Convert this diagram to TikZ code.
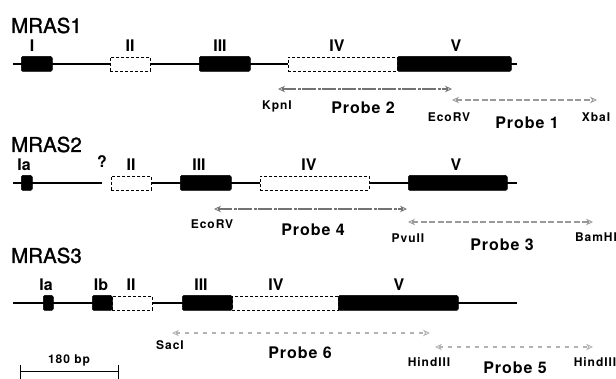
\documentclass[tikz,border=0pt]{standalone}
\usepackage{fontspec}
\setmainfont{TeX Gyre Heros}
\newfontfamily\titfont[FakeBold=1.2]{TeX Gyre Heros}
\newfontfamily\spcfont[LetterSpace=6]{TeX Gyre Heros}
\newfontfamily\enzfont[LetterSpace=8]{TeX Gyre Heros}
\usetikzlibrary{arrows.meta}
\begin{document}
\begin{tikzpicture}[x=1pt,y=-1pt,
  title/.style={font=\titfont\fontsize{20.5}{22}\selectfont, inner sep=0pt, anchor=base west},
  exlab/.style={font=\fontsize{16}{18}\selectfont\bfseries, inner sep=0pt, anchor=base},
  prlab/.style={font=\spcfont\fontsize{16}{18}\selectfont\bfseries, inner sep=0pt},
  enz/.style={font=\enzfont\fontsize{12}{14}\selectfont\bfseries, inner sep=0pt},
  gene/.style={line width=1.8pt},
  exonB/.style={fill=black, draw=black, line width=0.5pt, rounded corners=1.5pt, minimum height=15pt, inner sep=0pt, anchor=west},
  exonW/.style={fill=white, draw=black, line width=0.7pt, densely dashed, minimum height=14pt, inner sep=0pt, anchor=west},
  tipo/.tip={Stealth[open, length=7pt, width=6.5pt, line width=0.8pt]},
  probe/.style={line width=1.3pt, tipo-tipo},
  probeA/.style={probe, draw=black!55, dash pattern=on 14pt off 1.5pt on 3pt off 1.5pt},
  probeB/.style={probe, draw=black!40, dash pattern=on 6pt off 2.5pt},
  probeC/.style={probe, draw=black!30, dash pattern=on 4pt off 5pt},
  scalebar/.style={line width=1pt}]
\useasboundingbox (0,0) rectangle (616,379);

% ---------------- MRAS1 ----------------
\node[title] (t1) at (11,33) {MRAS1};
\coordinate (a0) at (13,64);
\coordinate (a9) at (517,64);
\draw[gene] (a0) -- (a9);
\node[exonB, minimum width=31pt] (a1) at (21,64) {};
\node[exonW, minimum width=40pt] (a2) at (110,64) {};
\node[exonB, minimum width=51pt] (a3) at (199,64) {};
\node[exonW, minimum width=109pt] (a4) at (288,64) {};
\node[exonB, minimum width=114pt] (a5) at (397,64) {};
\node[exlab] (la1) at (32,52) {I};
\node[exlab] (la2) at (130,52) {II};
\node[exlab] (la3) at (220,52) {III};
\node[exlab] (la4) at (337,52) {IV};
\node[exlab] (la5) at (456,52) {V};
\coordinate (p2l) at (278,89);
\coordinate (p2r) at (452,89);
\draw[probeA] (p2l) -- (p2r);
\coordinate (p1l) at (452,100);
\coordinate (p1r) at (597,100);
\draw[probeB] (p1l) -- (p1r);
\node[enz] (kpn) at (277,106) {KpnI};
\node[prlab] (pr2) at (363,108) {Probe 2};
\node[enz] (eco1) at (449,117) {EcoRV};
\node[prlab] (pr1) at (527,123) {Probe 1};
\node[enz] (xba) at (596,117) {XbaI};

% ---------------- MRAS2 ----------------
\node[title] (t2) at (11,152) {MRAS2};
\coordinate (b0) at (13,183);
\coordinate (bq) at (102,183);
\coordinate (b9) at (517,183);
\draw[gene] (b0) -- (bq);
\node[exonW, minimum width=40pt] (b2) at (111,183) {};
\draw[gene] (b2.east) -- (b9);
\node[exonB, minimum width=11pt] (b1) at (21,183) {};
\node[exonB, minimum width=51pt] (b3) at (180,183) {};
\node[exonW, minimum width=109pt] (b4) at (260,183) {};
\node[exonB, minimum width=99pt] (b5) at (408,183) {};
\node[exlab] (lb1) at (24,171) {Ia};
\node[exlab] (lbq) at (102,168) {?};
\node[exlab] (lb2) at (131,171) {II};
\node[exlab] (lb3) at (199,171) {III};
\node[exlab] (lb4) at (309,171) {IV};
\node[exlab] (lb5) at (456,171) {V};
\coordinate (p4l) at (214,209);
\coordinate (p4r) at (407,209);
\draw[probeA] (p4l) -- (p4r);
\coordinate (p3l) at (408,222);
\coordinate (p3r) at (593,222);
\draw[probeB] (p3l) -- (p3r);
\node[enz] (eco2) at (212,224) {EcoRV};
\node[prlab] (pr4) at (313,230) {Probe 4};
\node[enz] (pvu) at (408,238) {PvuII};
\node[prlab] (pr3) at (502,245) {Probe 3};
\node[enz] (bam) at (596,237) {BamHI};

% ---------------- MRAS3 ----------------
\node[title] (t3) at (11,263) {MRAS3};
\coordinate (c0) at (13,303);
\coordinate (c9) at (517,303);
\draw[gene] (c0) -- (c9);
\node[exonB, minimum width=10pt] (c1) at (43,303) {};
\node[exonW, minimum width=40pt] (c3) at (112,303) {};
\node[exonB, minimum width=20pt] (c2) at (92,303) {};
\node[exonW, minimum width=106pt] (c5) at (232,303) {};
\node[exonB, minimum width=50pt] (c4) at (182,303) {};
\node[exonB, minimum width=120pt] (c6) at (338,303) {};
\node[exlab] (lc1) at (46,291) {Ia};
\node[exlab] (lc2) at (101,291) {Ib};
\node[exlab] (lc3) at (131,291) {II};
\node[exlab] (lc4) at (201,291) {III};
\node[exlab] (lc5) at (276,291) {IV};
\node[exlab] (lc6) at (399,291) {V};
\coordinate (p6l) at (172,333);
\coordinate (p6r) at (430,333);
\draw[probeC] (p6l) -- (p6r);
\coordinate (p5l) at (435,347);
\coordinate (p5r) at (593,347);
\draw[probeC] (p5l) -- (p5r);
\node[enz] (sac) at (170,345) {SacI};
\node[prlab] (pr6) at (300,353) {Probe 6};
\node[enz] (hin1) at (429,362) {HindIII};
\node[prlab] (pr5) at (515,368) {Probe 5};
\node[enz] (hin2) at (595,362) {HindIII};

% ---------------- scale bar ----------------
\coordinate (sL) at (20,372);
\coordinate (sR) at (118,372);
\draw[scalebar] (sL) -- (sR);
\draw[scalebar] ([yshift=-8pt]sL) -- ([yshift=7pt]sL);
\draw[scalebar] ([yshift=-8pt]sR) -- ([yshift=7pt]sR);
\node[enz] (sc) at (69,360) {180 bp};
\end{tikzpicture}
\end{document}
